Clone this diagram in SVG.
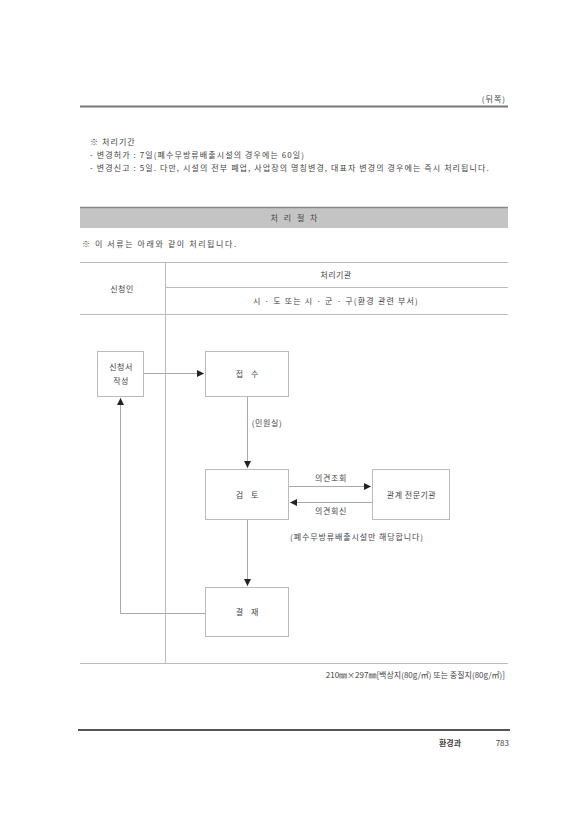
<svg xmlns="http://www.w3.org/2000/svg" width="586" height="830" viewBox="0 0 586 830">
<style>
text{font-family:"Noto Sans CJK KR","Noto Sans",sans-serif;fill:#444;font-size:8px}
.box{fill:#fff;stroke:#bbb;stroke-width:1}
.ln{stroke:#aaa;stroke-width:1;fill:none}
.tl{stroke:#bbb;stroke-width:1}
.c{text-anchor:middle}
.sp{letter-spacing:1.1px}
</style>
<defs>
<marker id="ah" markerWidth="8" markerHeight="8" refX="7" refY="4" orient="auto" markerUnits="userSpaceOnUse">
<path d="M0,0.5 L7,4 L0,7.5 Z" fill="#222"/>
</marker>
</defs>
<rect width="586" height="830" fill="#fff"/>
<!-- header -->
<text x="506" y="102" text-anchor="end" font-size="7" letter-spacing="1">(뒤쪽)</text>
<line x1="80" y1="106.5" x2="508" y2="106.5" stroke="#777" stroke-width="2"/>
<text x="90" y="145" class="sp">※ 처리기간</text>
<text x="90" y="158" class="sp">- 변경허가 : 7일(폐수무방류배출시설의 경우에는 60일)</text>
<text x="90" y="171" class="sp">- 변경신고 : 5일. 다만, 시설의 전부 폐업, 사업장의 명칭변경, 대표자 변경의 경우에는 즉시 처리됩니다.</text>
<rect x="80" y="207" width="428" height="21" fill="#c4c4c4"/>
<line x1="80" y1="207.5" x2="508" y2="207.5" stroke="#888" stroke-width="1.5"/>
<text x="295" y="221" class="c" font-size="9" letter-spacing="2">처 리 절 차</text>
<text x="82" y="247" font-size="9" letter-spacing="1.6">※ 이 서류는 아래와 같이 처리됩니다.</text>
<!-- table -->
<g id="table">
<line class="tl" x1="80" y1="262.5" x2="508" y2="262.5"/>
<line class="tl" x1="165" y1="287.5" x2="508" y2="287.5"/>
<line class="tl" x1="80" y1="314.5" x2="508" y2="314.5"/>
<line class="tl" x1="80" y1="663.5" x2="508" y2="663.5" stroke="#999"/>
<line class="tl" x1="165.5" y1="262" x2="165.5" y2="663"/>
<text x="122" y="292" class="c" letter-spacing="0.5">신청인</text>
<text x="336" y="278" class="c" letter-spacing="0.5">처리기관</text>
<text x="336" y="304" class="c" letter-spacing="1.2">시 · 도 또는 시 · 군 · 구(환경 관련 부서)</text>
</g>
<!-- connectors -->
<g id="connectors">
<line class="ln" x1="143" y1="373.5" x2="204" y2="373.5" marker-end="url(#ah)"/>
<line class="ln" x1="247.5" y1="396" x2="247.5" y2="468" marker-end="url(#ah)"/>
<line class="ln" x1="289" y1="486.5" x2="371" y2="486.5" marker-end="url(#ah)"/>
<line class="ln" x1="372" y1="502.5" x2="290" y2="502.5" marker-end="url(#ah)"/>
<line class="ln" x1="247.5" y1="519" x2="247.5" y2="586" marker-end="url(#ah)"/>
<polyline class="ln" points="205,613.5 120.5,613.5 120.5,398" marker-end="url(#ah)"/>
<text x="267" y="426" class="c" letter-spacing="0.6">(민원실)</text>
<text x="331" y="481" class="c" letter-spacing="0.6">의견조회</text>
<text x="331" y="514" class="c" letter-spacing="0.6">의견회신</text>
<text x="357" y="540" class="c" letter-spacing="0.9">(폐수무방류배출시설만 해당합니다)</text>
</g>
<g id="n1"><rect class="box" x="97.5" y="351.5" width="46" height="45"/><text x="121" y="370" class="c" letter-spacing="0.5">신청서</text><text x="121" y="384" class="c" letter-spacing="0.5">작성</text></g>
<g id="n2"><rect class="box" x="205.5" y="351.5" width="83" height="45"/><text x="251" y="377" class="c" letter-spacing="8">접수</text></g>
<g id="n3"><rect class="box" x="205.5" y="469.5" width="83" height="50"/><text x="251" y="498" class="c" letter-spacing="8">검토</text></g>
<g id="n4"><rect class="box" x="372.5" y="469.5" width="77" height="50"/><text x="411.5" y="498" class="c" letter-spacing="0.5">관계 전문기관</text></g>
<g id="n5"><rect class="box" x="205.5" y="587.5" width="83" height="49"/><text x="251" y="615" class="c" letter-spacing="8">결재</text></g>
<text x="505" y="678" text-anchor="end" font-size="6.5">210㎜×297㎜[백상지(80g/㎡) 또는 중질지(80g/㎡)]</text>
<!-- footer -->
<line x1="78" y1="730" x2="510" y2="730" stroke="#555" stroke-width="2"/>
<text x="461" y="746" text-anchor="end" font-weight="bold" fill="#222">환경과</text>
<text x="509" y="746" text-anchor="end" font-size="10" fill="#555">783</text>
</svg>
